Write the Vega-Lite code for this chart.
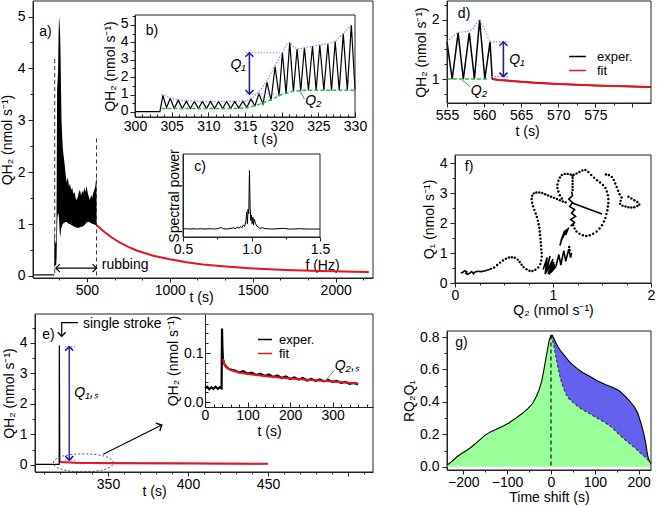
{
"$schema": "https://vega.github.io/schema/vega-lite/v6.json",
"width": 657, "height": 507, "padding": 0, "autosize": {"type": "none"},
"background": "white",
"config": {
  "view": {"stroke": null},
  "font": "Liberation Sans",
  "axis": {"labelFont": "Liberation Sans", "titleFont": "Liberation Sans", "labelFontSize": 14, "titleFontSize": 14, "titleFontWeight": "normal", "labelColor": "black", "titleColor": "black", "domainColor": "#222", "tickColor": "#222", "grid": false, "labelPadding": 2, "titlePadding": 3, "labelOverlap": false, "labelFlush": false},
  "axisX": {"labelPadding": 1, "titleBaseline": "middle"},
  "axisY": {"labelPadding": 3},
  "text": {"font": "Liberation Sans", "fontSize": 14, "color": "black"}
},
"resolve": {"scale": {"x": "independent", "y": "independent", "color": "independent"}},
"layer": [
{
 "encoding": {
  "x": {"field": "t", "type": "quantitative", "scale": {"domain": [175, 2225], "range": [33, 373], "nice": false, "zero": false},
        "axis": {"orient": "bottom", "offset": -229, "title": "t (s)", "titleX": 201, "titleY": 19, "values": [333.33, 500, 666.67, 833.33, 1000, 1166.67, 1333.33, 1500, 1666.67, 1833.33, 2000, 2166.67], "labelExpr": "datum.value % 500 == 0 ? format(datum.value, 'd') : ''", "tickSize": {"condition": {"test": "datum.value % 500 == 0", "value": 4}, "value": 2}}},
  "y": {"field": "Q", "type": "quantitative", "scale": {"domain": [-0.04, 5.3], "range": [278, 1], "nice": false, "zero": false},
        "axis": {"orient": "left", "offset": -33, "title": "QH₂ (nmol s⁻¹)", "values": [0, 0.5, 1, 1.5, 2, 2.5, 3, 3.5, 4, 4.5, 5], "labelExpr": "datum.value % 1 == 0 ? format(datum.value, 'd') : ''", "tickSize": {"condition": {"test": "datum.value % 1 == 0", "value": 5}, "value": 3}}}
 },
 "layer": [
  {"data": {"values": [{"t": 175, "Q": 0.02}, {"t": 303.5, "Q": 0.02}]}, "mark": {"type": "line", "color": "black", "strokeWidth": 1.2}},
  {"data": {"values": [
    {"t": 303.5, "Q": 0.02, "lo": 0.02}, {"t": 304, "Q": 0.95, "lo": 0.1}, {"t": 306, "Q": 0.75, "lo": 0.2}, {"t": 310, "Q": 0.62, "lo": 0.2}, {"t": 315, "Q": 0.65, "lo": 0.22}, {"t": 317, "Q": 1.2, "lo": 0.35}, {"t": 319, "Q": 2.6, "lo": 0.7}, {"t": 321, "Q": 4.0, "lo": 1.0}, {"t": 323, "Q": 3.6, "lo": 1.15}, {"t": 326, "Q": 3.9, "lo": 1.2}, {"t": 329, "Q": 4.6, "lo": 1.2}, {"t": 332, "Q": 5.0, "lo": 1.1}, {"t": 335, "Q": 4.9, "lo": 0.9}, {"t": 338, "Q": 4.7, "lo": 0.75}, {"t": 341, "Q": 4.3, "lo": 0.8}, {"t": 344, "Q": 3.6, "lo": 0.9}, {"t": 347, "Q": 3.0, "lo": 0.93}, {"t": 351, "Q": 2.7, "lo": 0.98}, {"t": 355, "Q": 2.45, "lo": 1.0}, {"t": 360, "Q": 2.3, "lo": 1.02}, {"t": 366, "Q": 2.15, "lo": 1.03}, {"t": 372, "Q": 1.95, "lo": 1.04}, {"t": 378, "Q": 1.8, "lo": 1.04}, {"t": 385, "Q": 1.9, "lo": 1.02}, {"t": 392, "Q": 1.72, "lo": 1.0}, {"t": 398, "Q": 1.78, "lo": 1.0}, {"t": 405, "Q": 1.66, "lo": 0.98}, {"t": 412, "Q": 1.7, "lo": 0.97}, {"t": 418, "Q": 1.58, "lo": 0.96}, {"t": 425, "Q": 1.62, "lo": 0.95}, {"t": 432, "Q": 1.5, "lo": 0.94}, {"t": 438, "Q": 1.46, "lo": 0.93}, {"t": 445, "Q": 1.52, "lo": 0.93}, {"t": 452, "Q": 1.62, "lo": 0.93}, {"t": 458, "Q": 1.66, "lo": 0.94}, {"t": 465, "Q": 1.55, "lo": 0.95}, {"t": 472, "Q": 1.64, "lo": 0.95}, {"t": 478, "Q": 1.6, "lo": 0.96}, {"t": 485, "Q": 1.7, "lo": 0.98}, {"t": 492, "Q": 1.62, "lo": 1.0}, {"t": 498, "Q": 1.74, "lo": 1.03}, {"t": 505, "Q": 1.6, "lo": 1.04}, {"t": 512, "Q": 1.52, "lo": 1.04}, {"t": 518, "Q": 1.46, "lo": 1.03}, {"t": 525, "Q": 1.56, "lo": 1.02}, {"t": 532, "Q": 1.5, "lo": 1.0}, {"t": 538, "Q": 1.6, "lo": 1.0}, {"t": 545, "Q": 1.66, "lo": 0.99}, {"t": 550, "Q": 1.72, "lo": 0.98}, {"t": 555, "Q": 1.85, "lo": 0.98}, {"t": 557.5, "Q": 2.0, "lo": 0.98}, {"t": 558.5, "Q": 1.0, "lo": 0.98}
  ]}, "mark": {"type": "area", "color": "black"}, "encoding": {"y2": {"field": "lo"}}},
  {"data": {"values": [{"t": 558, "Q": 0.98}, {"t": 600, "Q": 0.86}, {"t": 650, "Q": 0.74}, {"t": 700, "Q": 0.64}, {"t": 750, "Q": 0.56}, {"t": 800, "Q": 0.49}, {"t": 900, "Q": 0.39}, {"t": 1000, "Q": 0.32}, {"t": 1100, "Q": 0.265}, {"t": 1200, "Q": 0.22}, {"t": 1300, "Q": 0.19}, {"t": 1400, "Q": 0.165}, {"t": 1500, "Q": 0.145}, {"t": 1600, "Q": 0.13}, {"t": 1700, "Q": 0.115}, {"t": 1800, "Q": 0.105}, {"t": 1900, "Q": 0.095}, {"t": 2000, "Q": 0.088}, {"t": 2100, "Q": 0.082}, {"t": 2200, "Q": 0.077}]},
   "mark": {"type": "line", "color": "#e8141b", "strokeWidth": 2}},
  {"data": {"values": [{"t": 306, "Q": 4.18}, {"t": 558, "Q": 2.65}]}, "mark": {"type": "rule", "color": "#333", "strokeDash": [4, 3], "strokeWidth": 1}, "encoding": {"y2": {"datum": 0}}},
  {"data": {"values": [{"t": 313, "tend": 558, "Q": 0.15}]}, "mark": {"type": "rule", "color": "black", "strokeWidth": 1.2}, "encoding": {"x2": {"field": "tend"}}},
  {"data": {"values": [{"t": 313, "Q": 0.15}]}, "mark": {"type": "point", "shape": "M1,-1L0,0L1,1", "filled": false, "color": "black", "size": 64, "strokeWidth": 1.2, "opacity": 1}},
  {"data": {"values": [{"t": 558, "Q": 0.15}]}, "mark": {"type": "point", "shape": "M-1,-1L0,0L-1,1", "filled": false, "color": "black", "size": 64, "strokeWidth": 1.2, "opacity": 1}},
  {"data": {"values": [{"t": 590, "Q": 0.22, "label": "rubbing"}]}, "mark": {"type": "text", "align": "left", "baseline": "middle", "fontSize": 14}, "encoding": {"text": {"field": "label"}}},
  {"data": {"values": [{"t": 250, "Q": 4.7, "label": "a)"}]}, "mark": {"type": "text", "align": "center", "baseline": "middle", "fontSize": 14}, "encoding": {"text": {"field": "label"}}},
  {"data": {"values": [{"t": 175, "tend": 2225, "Q": -0.04, "Qend": 5.3}]}, "mark": {"type": "rect", "filled": false, "stroke": "#222", "strokeWidth": 1}, "encoding": {"x2": {"field": "tend"}, "y2": {"field": "Qend"}}}
 ]
},
{
 "encoding": {
  "x": {"field": "t", "type": "quantitative", "scale": {"domain": [300, 330], "range": [135, 355], "nice": false, "zero": false},
        "axis": {"orient": "bottom", "offset": -390, "title": "t (s)", "titleX": 265, "titleY": 22, "values": [300,301,302,303,304,305,306,307,308,309,310,311,312,313,314,315,316,317,318,319,320,321,322,323,324,325,326,327,328,329,330], "labelExpr": "datum.value % 5 == 0 ? format(datum.value, 'd') : ''", "tickSize": {"condition": {"test": "datum.value % 5 == 0", "value": -5}, "value": -3}, "labelPadding": 7}},
  "y": {"field": "Q", "type": "quantitative", "scale": {"domain": [-0.29, 5.57], "range": [117, 15], "nice": false, "zero": false},
        "axis": {"orient": "left", "offset": -135, "title": "QH₂ (nmol s⁻¹)", "values": [0, 0.5, 1, 1.5, 2, 2.5, 3, 3.5, 4, 4.5, 5, 5.5], "labelExpr": "datum.value % 1 == 0 ? format(datum.value, 'd') : ''", "labelOffset": -1, "labelPadding": 2, "tickSize": {"condition": {"test": "datum.value % 1 == 0", "value": 5}, "value": 3}}}
 },
 "layer": [
  {"data": {"values": [
    {"t": 300, "Q": 0.02}, {"t": 303.4, "Q": 0.02}, {"t": 303.8, "Q": 0.95}, {"t": 304.3, "Q": 0.25}, {"t": 304.8, "Q": 0.78}, {"t": 305.35, "Q": 0.2}, {"t": 305.9, "Q": 0.68}, {"t": 306.45, "Q": 0.2}, {"t": 307, "Q": 0.62}, {"t": 307.55, "Q": 0.2}, {"t": 308.1, "Q": 0.6}, {"t": 308.65, "Q": 0.2}, {"t": 309.2, "Q": 0.6}, {"t": 309.75, "Q": 0.2}, {"t": 310.3, "Q": 0.6}, {"t": 310.85, "Q": 0.2}, {"t": 311.4, "Q": 0.6}, {"t": 311.95, "Q": 0.2}, {"t": 312.5, "Q": 0.6}, {"t": 313.05, "Q": 0.2}, {"t": 313.6, "Q": 0.6}, {"t": 314.15, "Q": 0.22}, {"t": 314.7, "Q": 0.62}, {"t": 315.25, "Q": 0.25}, {"t": 315.8, "Q": 0.75}, {"t": 316.35, "Q": 0.35}, {"t": 316.9, "Q": 1.05}, {"t": 317.45, "Q": 0.45}, {"t": 318, "Q": 1.7}, {"t": 318.55, "Q": 0.65}, {"t": 319.1, "Q": 2.6}, {"t": 319.65, "Q": 0.9}, {"t": 320.1, "Q": 3.4}, {"t": 320.6, "Q": 1.05}, {"t": 321.1, "Q": 4.0}, {"t": 321.6, "Q": 1.15}, {"t": 322.1, "Q": 3.62}, {"t": 322.6, "Q": 1.22}, {"t": 323.1, "Q": 3.7}, {"t": 323.65, "Q": 1.25}, {"t": 324.2, "Q": 3.78}, {"t": 324.7, "Q": 1.25}, {"t": 325.2, "Q": 3.85}, {"t": 325.75, "Q": 1.25}, {"t": 326.3, "Q": 3.92}, {"t": 326.8, "Q": 1.25}, {"t": 327.3, "Q": 4.05}, {"t": 327.85, "Q": 1.25}, {"t": 328.4, "Q": 4.5}, {"t": 328.95, "Q": 1.25}, {"t": 329.5, "Q": 5.0}, {"t": 330, "Q": 1.3}
  ]}, "mark": {"type": "line", "color": "black", "strokeWidth": 1.2}},
  {"data": {"values": [
    {"t": 303.6, "Q": 1.0}, {"t": 304.3, "Q": 0.9}, {"t": 305, "Q": 0.78}, {"t": 306, "Q": 0.68}, {"t": 307, "Q": 0.63}, {"t": 309, "Q": 0.6}, {"t": 312, "Q": 0.6}, {"t": 315, "Q": 0.62}, {"t": 316, "Q": 0.8}, {"t": 317, "Q": 1.2}, {"t": 318, "Q": 1.8}, {"t": 319, "Q": 2.6}, {"t": 320.1, "Q": 3.4}, {"t": 320.6, "Q": 3.85}, {"t": 321.1, "Q": 4.0}, {"t": 321.7, "Q": 3.7}, {"t": 322.3, "Q": 3.62}, {"t": 323.5, "Q": 3.72}, {"t": 325.2, "Q": 3.85}, {"t": 326.3, "Q": 3.92}, {"t": 327.3, "Q": 4.05}, {"t": 328.4, "Q": 4.5}, {"t": 329.5, "Q": 5.0}
  ]}, "mark": {"type": "line", "color": "#8c8cf0", "strokeDash": [1.5, 1.5], "strokeWidth": 1.2}},
  {"data": {"values": [
    {"t": 303.6, "Q": 0.2}, {"t": 310, "Q": 0.2}, {"t": 314, "Q": 0.2}, {"t": 315.5, "Q": 0.25}, {"t": 317, "Q": 0.45}, {"t": 318.5, "Q": 0.7}, {"t": 320, "Q": 1.0}, {"t": 321.5, "Q": 1.18}, {"t": 323, "Q": 1.25}, {"t": 330, "Q": 1.25}
  ]}, "mark": {"type": "line", "color": "#2dbb4e", "strokeDash": [4, 2], "strokeWidth": 1.5}},
  {"data": {"values": [{"t": 315.1, "tend": 320, "Q": 3.4}, {"t": 315.1, "tend": 320, "Q": 1.03}]}, "mark": {"type": "rule", "color": "#8c8cf0", "strokeDash": [1.5, 1.5], "strokeWidth": 1.2}, "encoding": {"x2": {"field": "tend"}}},
  {"data": {"values": [{"t": 315.6, "Q": 1.03, "Qend": 3.4}]}, "mark": {"type": "rule", "color": "#1f1fa0", "strokeWidth": 1.6}, "encoding": {"y2": {"field": "Qend"}}},
  {"data": {"values": [{"t": 315.6, "Q": 3.4}]}, "mark": {"type": "point", "shape": "M-1,1L0,0L1,1", "filled": false, "color": "#1f1fa0", "size": 64, "strokeWidth": 1.6, "opacity": 1}},
  {"data": {"values": [{"t": 315.6, "Q": 1.03}]}, "mark": {"type": "point", "shape": "M-1,-1L0,0L1,-1", "filled": false, "color": "#1f1fa0", "size": 64, "strokeWidth": 1.6, "opacity": 1}},
  {"data": {"values": [{"t": 322.4, "Q": 1.26, "tend": 323.1, "Qend": 0.75}]}, "mark": {"type": "rule", "color": "#2a9d5a", "strokeWidth": 1}, "encoding": {"x2": {"field": "tend"}, "y2": {"field": "Qend"}}},
  {"data": {"values": [{"t": 315.1, "Q": 2.7, "label": "Q₁"}]}, "mark": {"type": "text", "align": "right", "baseline": "middle", "fontStyle": "italic", "fontSize": 14}, "encoding": {"text": {"field": "label"}}},
  {"data": {"values": [{"t": 323.2, "Q": 0.65, "label": "Q₂"}]}, "mark": {"type": "text", "align": "left", "baseline": "middle", "fontStyle": "italic", "fontSize": 14}, "encoding": {"text": {"field": "label"}}},
  {"data": {"values": [{"t": 302.3, "Q": 4.65, "label": "b)"}]}, "mark": {"type": "text", "align": "center", "baseline": "middle", "fontSize": 14}, "encoding": {"text": {"field": "label"}}},
  {"data": {"values": [{"t": 300, "tend": 330, "Q": -0.29, "Qend": 5.57}]}, "mark": {"type": "rect", "filled": false, "stroke": "#222", "strokeWidth": 1}, "encoding": {"x2": {"field": "tend"}, "y2": {"field": "Qend"}}}
 ]
},
{
 "encoding": {
  "x": {"field": "f", "type": "quantitative", "scale": {"domain": [0.5, 1.5], "range": [183, 320], "nice": false, "zero": false},
        "axis": {"orient": "bottom", "offset": -270, "title": "f (Hz)", "titleX": 322, "titleY": 28, "values": [0.5, 0.75, 1, 1.25, 1.5], "labelExpr": "datum.value % 0.5 == 0 ? format(datum.value, '.1f') : ''", "tickSize": {"condition": {"test": "datum.value % 0.5 == 0", "value": 4}, "value": 2}}},
  "y": {"field": "P", "type": "quantitative", "scale": {"domain": [0, 1.25], "range": [237, 154], "nice": false, "zero": false},
        "axis": {"orient": "left", "offset": -183, "title": "Spectral power", "ticks": false, "labels": false, "titlePadding": 2}}
 },
 "layer": [
  {"data": {"values": [
    {"f": 0.5, "P": 0.12}, {"f": 0.52, "P": 0.125}, {"f": 0.55, "P": 0.12}, {"f": 0.58, "P": 0.125}, {"f": 0.6, "P": 0.12}, {"f": 0.63, "P": 0.125}, {"f": 0.66, "P": 0.12}, {"f": 0.7, "P": 0.125}, {"f": 0.73, "P": 0.12}, {"f": 0.76, "P": 0.13}, {"f": 0.78, "P": 0.145}, {"f": 0.79, "P": 0.125}, {"f": 0.82, "P": 0.12}, {"f": 0.85, "P": 0.13}, {"f": 0.87, "P": 0.14}, {"f": 0.88, "P": 0.125}, {"f": 0.9, "P": 0.15}, {"f": 0.91, "P": 0.13}, {"f": 0.92, "P": 0.16}, {"f": 0.93, "P": 0.14}, {"f": 0.94, "P": 0.18}, {"f": 0.95, "P": 0.16}, {"f": 0.96, "P": 0.25}, {"f": 0.965, "P": 0.38}, {"f": 0.97, "P": 0.2}, {"f": 0.975, "P": 0.42}, {"f": 0.98, "P": 0.35}, {"f": 0.985, "P": 1.0}, {"f": 0.99, "P": 0.45}, {"f": 0.995, "P": 0.25}, {"f": 1.0, "P": 0.33}, {"f": 1.005, "P": 0.2}, {"f": 1.01, "P": 0.3}, {"f": 1.015, "P": 0.18}, {"f": 1.02, "P": 0.27}, {"f": 1.03, "P": 0.2}, {"f": 1.04, "P": 0.16}, {"f": 1.05, "P": 0.15}, {"f": 1.06, "P": 0.13}, {"f": 1.08, "P": 0.14}, {"f": 1.1, "P": 0.125}, {"f": 1.15, "P": 0.12}, {"f": 1.2, "P": 0.125}, {"f": 1.24, "P": 0.13}, {"f": 1.27, "P": 0.12}, {"f": 1.3, "P": 0.12}, {"f": 1.35, "P": 0.125}, {"f": 1.4, "P": 0.12}, {"f": 1.45, "P": 0.12}, {"f": 1.5, "P": 0.12}
  ]}, "mark": {"type": "line", "color": "black", "strokeWidth": 1}},
  {"data": {"values": [{"f": 0.624, "P": 1.05, "label": "c)"}]}, "mark": {"type": "text", "align": "center", "baseline": "middle", "fontSize": 14}, "encoding": {"text": {"field": "label"}}},
  {"data": {"values": [{"f": 0.5, "fend": 1.5, "P": 0, "Pend": 1.25}]}, "mark": {"type": "rect", "filled": false, "stroke": "#222", "strokeWidth": 1}, "encoding": {"x2": {"field": "fend"}, "y2": {"field": "Pend"}}}
 ]
},
{
 "encoding": {
  "x": {"field": "t", "type": "quantitative", "scale": {"domain": [555, 582.5], "range": [447, 651], "nice": false, "zero": false},
        "axis": {"orient": "bottom", "offset": -404, "title": "t (s)", "titleX": 527, "titleY": 28, "values": [555, 557.5, 560, 562.5, 565, 567.5, 570, 572.5, 575, 577.5, 580], "labelExpr": "datum.value % 5 == 0 && datum.value < 580 ? format(datum.value, 'd') : ''", "tickSize": {"condition": {"test": "datum.value % 5 == 0", "value": 4}, "value": 2}}},
  "y": {"field": "Q", "type": "quantitative", "scale": {"domain": [0.595, 2.32], "range": [103, 1], "nice": false, "zero": false},
        "axis": {"orient": "left", "offset": -447, "title": "QH₂ (nmol s⁻¹)", "values": [0.75, 1, 1.25, 1.5, 1.75, 2, 2.25], "labelExpr": "datum.value % 1 == 0 ? format(datum.value, 'd') : ''", "tickSize": {"condition": {"test": "datum.value % 1 == 0", "value": 5}, "value": 3}}}
 },
 "layer": [
  {"data": {"values": [{"t": 555, "Q": 1.63}, {"t": 555.7, "Q": 1.0}, {"t": 556.5, "Q": 1.78}, {"t": 557.2, "Q": 1.0}, {"t": 558, "Q": 1.78}, {"t": 558.7, "Q": 1.0}, {"t": 559.4, "Q": 2.0}, {"t": 560.1, "Q": 1.0}, {"t": 560.8, "Q": 1.63}, {"t": 561.1, "Q": 1.0}, {"t": 562, "Q": 0.985}, {"t": 565, "Q": 0.955}, {"t": 570, "Q": 0.915}, {"t": 575, "Q": 0.89}, {"t": 582.5, "Q": 0.865}]},
   "mark": {"type": "line", "strokeWidth": 1.5},
   "encoding": {"color": {"datum": "exper.", "type": "nominal", "scale": {"domain": ["exper.", "fit"], "range": ["black", "#e8141b"]},
     "legend": {"orient": "none", "legendX": 568, "legendY": 50, "title": null, "symbolType": "stroke", "symbolSize": 280, "symbolStrokeWidth": 1.5, "labelFontSize": 13, "labelFont": "Liberation Sans", "labelColor": "black", "labelOffset": 10, "rowPadding": 0, "clipHeight": 13, "padding": 0, "labelExpr": "datum.label == 'fit' ? '\u00a0fit' : datum.label"}}}},
  {"data": {"values": [{"t": 561.1, "Q": 1.0}, {"t": 562, "Q": 0.985}, {"t": 565, "Q": 0.955}, {"t": 567, "Q": 0.935}, {"t": 570, "Q": 0.915}, {"t": 575, "Q": 0.89}, {"t": 580, "Q": 0.873}, {"t": 582.5, "Q": 0.865}]},
   "mark": {"type": "line", "strokeWidth": 2}, "encoding": {"color": {"datum": "fit", "type": "nominal"}}},
  {"data": {"values": [{"t": 555, "Q": 1.63}, {"t": 555.8, "Q": 1.72}, {"t": 556.5, "Q": 1.79}, {"t": 557.3, "Q": 1.8}, {"t": 558, "Q": 1.81}, {"t": 558.5, "Q": 1.85}, {"t": 559, "Q": 1.95}, {"t": 559.4, "Q": 2.0}, {"t": 560, "Q": 1.85}, {"t": 560.8, "Q": 1.63}]},
   "mark": {"type": "line", "color": "#8c8cf0", "strokeDash": [1.5, 1.5], "strokeWidth": 1.2}},
  {"data": {"values": [{"t": 555, "Q": 1.0}, {"t": 560.6, "Q": 1.0}]}, "mark": {"type": "line", "color": "#2dbb4e", "strokeDash": [4, 2], "strokeWidth": 1.5}},
  {"data": {"values": [{"t": 560.8, "tend": 563.3, "Q": 1.63}, {"t": 561, "tend": 563.3, "Q": 1.04}]}, "mark": {"type": "rule", "color": "#8c8cf0", "strokeDash": [1.5, 1.5], "strokeWidth": 1.2}, "encoding": {"x2": {"field": "tend"}}},
  {"data": {"values": [{"t": 562.6, "Q": 1.04, "Qend": 1.63}]}, "mark": {"type": "rule", "color": "#1f1fa0", "strokeWidth": 1.6}, "encoding": {"y2": {"field": "Qend"}}},
  {"data": {"values": [{"t": 562.6, "Q": 1.63}]}, "mark": {"type": "point", "shape": "M-1,1L0,0L1,1", "filled": false, "color": "#1f1fa0", "size": 64, "strokeWidth": 1.6, "opacity": 1}},
  {"data": {"values": [{"t": 562.6, "Q": 1.04}]}, "mark": {"type": "point", "shape": "M-1,-1L0,0L1,-1", "filled": false, "color": "#1f1fa0", "size": 64, "strokeWidth": 1.6, "opacity": 1}},
  {"data": {"values": [{"t": 557, "Q": 0.99, "tend": 558.1, "Qend": 0.87}]}, "mark": {"type": "rule", "color": "#2a9d5a", "strokeWidth": 1}, "encoding": {"x2": {"field": "tend"}, "y2": {"field": "Qend"}}},
  {"data": {"values": [{"t": 563.4, "Q": 1.33, "label": "Q₁"}]}, "mark": {"type": "text", "align": "left", "baseline": "middle", "fontStyle": "italic", "fontSize": 14}, "encoding": {"text": {"field": "label"}}},
  {"data": {"values": [{"t": 558.2, "Q": 0.8, "label": "Q₂"}]}, "mark": {"type": "text", "align": "left", "baseline": "middle", "fontStyle": "italic", "fontSize": 14}, "encoding": {"text": {"field": "label"}}},
  {"data": {"values": [{"t": 557.3, "Q": 2.1, "label": "d)"}]}, "mark": {"type": "text", "align": "center", "baseline": "middle", "fontSize": 14}, "encoding": {"text": {"field": "label"}}},
  {"data": {"values": [{"t": 555, "tend": 582.5, "Q": 0.595, "Qend": 2.32}]}, "mark": {"type": "rect", "filled": false, "stroke": "#222", "strokeWidth": 1}, "encoding": {"x2": {"field": "tend"}, "y2": {"field": "Qend"}}}
 ]
},
{
 "encoding": {
  "x": {"field": "t", "type": "quantitative", "scale": {"domain": [304.4, 515.6], "range": [35, 373], "nice": false, "zero": false},
        "axis": {"orient": "bottom", "offset": -35, "title": "t (s)", "titleX": 154, "titleY": 19, "values": [310,320,330,340,350,360,370,380,390,400,410,420,430,440,450,460,470,480,490,500,510], "labelExpr": "datum.value % 50 == 0 && datum.value < 500 ? format(datum.value, 'd') : ''", "tickSize": {"condition": {"test": "datum.value % 50 == 0", "value": 4}, "value": 2}}},
  "y": {"field": "Q", "type": "quantitative", "scale": {"domain": [-0.23, 4.95], "range": [472, 314], "nice": false, "zero": false},
        "axis": {"orient": "left", "offset": -35, "title": "QH₂ (nmol s⁻¹)", "values": [0, 0.5, 1, 1.5, 2, 2.5, 3, 3.5, 4, 4.5], "labelExpr": "datum.value % 1 == 0 ? format(datum.value, 'd') : ''", "tickSize": {"condition": {"test": "datum.value % 1 == 0", "value": 5}, "value": 3}}}
 },
 "layer": [
  {"data": {"values": [{"t": 304.4, "Q": 0.02}, {"t": 319.5, "Q": 0.02}, {"t": 319.6, "Q": 3.92}, {"t": 319.9, "Q": 0.12}, {"t": 321, "Q": 0.09}, {"t": 330, "Q": 0.075}, {"t": 350, "Q": 0.06}, {"t": 400, "Q": 0.05}, {"t": 450, "Q": 0.04}]},
   "mark": {"type": "line", "color": "black", "strokeWidth": 1.2}},
  {"data": {"values": [{"t": 320, "Q": 0.1}, {"t": 330, "Q": 0.075}, {"t": 350, "Q": 0.06}, {"t": 400, "Q": 0.05}, {"t": 450, "Q": 0.04}]},
   "mark": {"type": "line", "color": "#e8141b", "strokeWidth": 2}},
  {"data": {"values": [{"t": 323, "tend": 329.4, "Q": 3.88}, {"t": 323, "tend": 329.4, "Q": 0.16}]}, "mark": {"type": "rule", "color": "#8c8cf0", "strokeDash": [1.5, 1.5], "strokeWidth": 1.2}, "encoding": {"x2": {"field": "tend"}}},
  {"data": {"values": [{"t": 325.8, "Q": 0.16, "Qend": 3.88}]}, "mark": {"type": "rule", "color": "#1f1fa0", "strokeWidth": 1.4}, "encoding": {"y2": {"field": "Qend"}}},
  {"data": {"values": [{"t": 325.8, "Q": 3.88}]}, "mark": {"type": "point", "shape": "M-1,1L0,0L1,1", "filled": false, "color": "#1f1fa0", "size": 64, "strokeWidth": 1.6, "opacity": 1}},
  {"data": {"values": [{"t": 325.8, "Q": 0.16}]}, "mark": {"type": "point", "shape": "M-1,-1L0,0L1,-1", "filled": false, "color": "#1f1fa0", "size": 64, "strokeWidth": 1.6, "opacity": 1}},
  {"data": {"values": [{"t": 329, "Q": 2.36, "label": "Q₁,ₛ"}]}, "mark": {"type": "text", "align": "left", "baseline": "middle", "fontStyle": "italic", "fontSize": 14}, "encoding": {"text": {"field": "label"}}},
  {"data": {"values": [{"t": 334.4, "Q": 4.62, "label": "single stroke"}]}, "mark": {"type": "text", "align": "left", "baseline": "middle", "fontSize": 14}, "encoding": {"text": {"field": "label"}}},
  {"data": {"values": [{"t": 312.8, "Q": 4.26, "label": "e)"}]}, "mark": {"type": "text", "align": "center", "baseline": "middle", "fontSize": 14}, "encoding": {"text": {"field": "label"}}},
  {"data": {"values": [{"i": 0, "t": 331.3, "Q": 4.67}, {"i": 1, "t": 321.1, "Q": 4.67}, {"i": 2, "t": 321.1, "Q": 4.22}]}, "mark": {"type": "line", "color": "black", "strokeWidth": 1.2}, "encoding": {"order": {"field": "i"}}},
  {"data": {"values": [{"t": 321.1, "Q": 4.22}]}, "mark": {"type": "point", "shape": "M-1,-1L0,0L1,-1", "filled": false, "color": "black", "size": 64, "strokeWidth": 1.4, "opacity": 1}},
  {"data": {"values": [{"t": 334.6, "Q": 0.07}]}, "mark": {"type": "point", "shape": "M-1,0C-1,-0.4,1,-0.4,1,0C1,0.4,-1,0.4,-1,0Z", "filled": false, "color": "#555", "size": 3600, "strokeWidth": 1, "strokeDash": [2, 2], "opacity": 1}},
  {"data": {"values": [{"t": 347, "Q": 0.35, "tend": 383.6, "Qend": 1.31}]}, "mark": {"type": "rule", "color": "black", "strokeWidth": 1.2}, "encoding": {"x2": {"field": "tend"}, "y2": {"field": "Qend"}}},
  {"data": {"values": [{"t": 383.6, "Q": 1.31}]}, "mark": {"type": "point", "shape": "M-1,1L0,0L1,1", "filled": false, "color": "black", "size": 80, "strokeWidth": 1.4, "opacity": 1, "angle": 63}},
  {"data": {"values": [{"t": 304.4, "tend": 515.6, "Q": -0.23, "Qend": 4.95}]}, "mark": {"type": "rect", "filled": false, "stroke": "#222", "strokeWidth": 1}, "encoding": {"x2": {"field": "tend"}, "y2": {"field": "Qend"}}}
 ]
},
{
 "encoding": {
  "x": {"field": "t", "type": "quantitative", "scale": {"domain": [0, 395], "range": [205, 373], "nice": false, "zero": false},
        "axis": {"orient": "bottom", "offset": -100, "title": "t (s)", "titleX": 269, "titleY": 24, "values": [0,20,40,60,80,100,120,140,160,180,200,220,240,260,280,300,320,340,360,380], "labelExpr": "datum.value % 100 == 0 ? format(datum.value, 'd') : ''", "tickSize": {"condition": {"test": "datum.value % 100 == 0", "value": -5}, "value": -3}, "labelPadding": 6}},
  "y": {"field": "Q", "type": "quantitative", "scale": {"domain": [-0.0102, 0.1796], "range": [407, 314], "nice": false, "zero": false},
        "axis": {"orient": "left", "offset": -205, "title": "QH₂ (nmol s⁻¹)", "values": [0, 0.02, 0.04, 0.06, 0.08, 0.1, 0.12, 0.14, 0.16], "labelExpr": "datum.value == 0 || datum.value == 0.1 ? format(datum.value, '.1f') : ''", "tickSize": {"condition": {"test": "datum.value == 0 || datum.value == 0.1", "value": -5}, "value": -3}, "labelPadding": 7}}
 },
 "layer": [
  {"data": {"values": [
    {"t": 0, "Q": 0.028}, {"t": 5, "Q": 0.031}, {"t": 10, "Q": 0.026}, {"t": 15, "Q": 0.03}, {"t": 20, "Q": 0.027}, {"t": 25, "Q": 0.031}, {"t": 30, "Q": 0.027}, {"t": 35, "Q": 0.03}, {"t": 39, "Q": 0.028}, {"t": 40, "Q": 0.15}, {"t": 41, "Q": 0.11}, {"t": 42, "Q": 0.088}, {"t": 45, "Q": 0.078}, {"t": 50, "Q": 0.072}, {"t": 55, "Q": 0.068}, {"t": 60, "Q": 0.066}, {"t": 70, "Q": 0.064}, {"t": 80, "Q": 0.06}, {"t": 90, "Q": 0.063}, {"t": 100, "Q": 0.058}, {"t": 110, "Q": 0.06}, {"t": 120, "Q": 0.055}, {"t": 130, "Q": 0.058}, {"t": 140, "Q": 0.053}, {"t": 150, "Q": 0.056}, {"t": 160, "Q": 0.051}, {"t": 170, "Q": 0.054}, {"t": 180, "Q": 0.049}, {"t": 190, "Q": 0.052}, {"t": 200, "Q": 0.047}, {"t": 210, "Q": 0.05}, {"t": 220, "Q": 0.046}, {"t": 230, "Q": 0.049}, {"t": 240, "Q": 0.044}, {"t": 250, "Q": 0.047}, {"t": 260, "Q": 0.043}, {"t": 270, "Q": 0.046}, {"t": 280, "Q": 0.042}, {"t": 290, "Q": 0.045}, {"t": 300, "Q": 0.041}, {"t": 310, "Q": 0.043}, {"t": 320, "Q": 0.039}, {"t": 330, "Q": 0.041}, {"t": 340, "Q": 0.037}, {"t": 350, "Q": 0.039}, {"t": 360, "Q": 0.036}
  ]}, "mark": {"type": "line", "strokeWidth": 2.2},
   "encoding": {"color": {"datum": "exper.", "type": "nominal", "scale": {"domain": ["exper.", "fit"], "range": ["black", "#e8141b"]},
     "legend": {"orient": "none", "legendX": 257, "legendY": 333, "title": null, "symbolType": "stroke", "symbolSize": 200, "symbolStrokeWidth": 1.5, "labelFontSize": 13, "labelFont": "Liberation Sans", "labelColor": "black", "labelOffset": 6, "rowPadding": 0, "clipHeight": 13, "padding": 0, "labelExpr": "datum.label == 'fit' ? '\u00a0fit' : datum.label"}}}},
  {"data": {"values": [{"t": 42, "Q": 0.088}, {"t": 45, "Q": 0.078}, {"t": 50, "Q": 0.071}, {"t": 60, "Q": 0.065}, {"t": 80, "Q": 0.06}, {"t": 100, "Q": 0.057}, {"t": 150, "Q": 0.052}, {"t": 200, "Q": 0.048}, {"t": 250, "Q": 0.045}, {"t": 300, "Q": 0.042}, {"t": 360, "Q": 0.038}]},
   "mark": {"type": "line", "strokeWidth": 2}, "encoding": {"color": {"datum": "fit", "type": "nominal"}}},
  {"data": {"values": [{"t": 285, "Q": 0.045, "tend": 304, "Qend": 0.065}]}, "mark": {"type": "rule", "color": "#2a9d5a", "strokeWidth": 1}, "encoding": {"x2": {"field": "tend"}, "y2": {"field": "Qend"}}},
  {"data": {"values": [{"t": 305, "Q": 0.074, "label": "Q₂,ₛ"}]}, "mark": {"type": "text", "align": "left", "baseline": "middle", "fontStyle": "italic", "fontSize": 14}, "encoding": {"text": {"field": "label"}}}
 ]
},
{
 "encoding": {
  "x": {"field": "Q2", "type": "quantitative", "scale": {"domain": [0, 2], "range": [455, 651], "nice": false, "zero": false},
        "axis": {"orient": "bottom", "offset": -224, "title": "Q₂ (nmol s⁻¹)", "titleY": 27, "values": [0, 0.25, 0.5, 0.75, 1, 1.25, 1.5, 1.75, 2], "labelExpr": "datum.value % 1 == 0 ? format(datum.value, 'd') : ''", "tickSize": {"condition": {"test": "datum.value % 1 == 0", "value": 4}, "value": 2}}},
  "y": {"field": "Q1", "type": "quantitative", "scale": {"domain": [0, 4.27], "range": [283, 155], "nice": false, "zero": false},
        "axis": {"orient": "left", "offset": -455, "title": "Q₁ (nmol s⁻¹)", "values": [0, 0.5, 1, 1.5, 2, 2.5, 3, 3.5, 4], "labelExpr": "datum.value % 1 == 0 ? format(datum.value, 'd') : ''", "tickSize": {"condition": {"test": "datum.value % 1 == 0", "value": 5}, "value": 3}}}
 },
 "layer": [
  {"data": {"values": [
    {"seg": 1, "i": 0, "Q2": 0.06, "Q1": 0.33}, {"seg": 1, "i": 1, "Q2": 0.08, "Q1": 0.36}, {"seg": 1, "i": 2, "Q2": 0.1, "Q1": 0.41}, {"seg": 1, "i": 3, "Q2": 0.12, "Q1": 0.37}, {"seg": 1, "i": 4, "Q2": 0.11, "Q1": 0.32}, {"seg": 1, "i": 5, "Q2": 0.13, "Q1": 0.29}, {"seg": 1, "i": 6, "Q2": 0.15, "Q1": 0.33}, {"seg": 1, "i": 7, "Q2": 0.17, "Q1": 0.38}, {"seg": 1, "i": 8, "Q2": 0.19, "Q1": 0.31}, {"seg": 1, "i": 9, "Q2": 0.2, "Q1": 0.36}, {"seg": 1, "i": 10, "Q2": 0.23, "Q1": 0.39}, {"seg": 1, "i": 11, "Q2": 0.27, "Q1": 0.38}, {"seg": 1, "i": 12, "Q2": 0.31, "Q1": 0.41}, {"seg": 1, "i": 13, "Q2": 0.35, "Q1": 0.45}, {"seg": 1, "i": 14, "Q2": 0.38, "Q1": 0.49},
    {"seg": 2, "i": 0, "Q2": 0.9, "Q1": 0.45}, {"seg": 2, "i": 1, "Q2": 0.94, "Q1": 0.85}, {"seg": 2, "i": 2, "Q2": 0.92, "Q1": 0.3}, {"seg": 2, "i": 3, "Q2": 0.97, "Q1": 0.9}, {"seg": 2, "i": 4, "Q2": 0.93, "Q1": 0.35}, {"seg": 2, "i": 5, "Q2": 1.0, "Q1": 0.8}, {"seg": 2, "i": 6, "Q2": 0.95, "Q1": 0.3}, {"seg": 2, "i": 7, "Q2": 1.01, "Q1": 0.7}, {"seg": 2, "i": 8, "Q2": 0.96, "Q1": 0.28}, {"seg": 2, "i": 9, "Q2": 1.02, "Q1": 0.62}, {"seg": 2, "i": 10, "Q2": 0.98, "Q1": 0.35}, {"seg": 2, "i": 11, "Q2": 1.03, "Q1": 0.55},
    {"seg": 3, "i": 0, "Q2": 1.03, "Q1": 0.55}, {"seg": 3, "i": 1, "Q2": 1.06, "Q1": 0.95}, {"seg": 3, "i": 2, "Q2": 1.08, "Q1": 0.6}, {"seg": 3, "i": 3, "Q2": 1.11, "Q1": 1.08}, {"seg": 3, "i": 4, "Q2": 1.13, "Q1": 0.72}, {"seg": 3, "i": 5, "Q2": 1.16, "Q1": 1.12}, {"seg": 3, "i": 6, "Q2": 1.18, "Q1": 0.85}, {"seg": 3, "i": 7, "Q2": 1.19, "Q1": 1.0},
    {"seg": 4, "i": 0, "Q2": 1.07, "Q1": 1.25}, {"seg": 4, "i": 1, "Q2": 1.1, "Q1": 1.55}, {"seg": 4, "i": 2, "Q2": 1.08, "Q1": 1.4}, {"seg": 4, "i": 3, "Q2": 1.12, "Q1": 1.75}, {"seg": 4, "i": 4, "Q2": 1.1, "Q1": 1.5}, {"seg": 4, "i": 5, "Q2": 1.14, "Q1": 1.8}, {"seg": 4, "i": 6, "Q2": 1.13, "Q1": 1.6}, {"seg": 4, "i": 7, "Q2": 1.16, "Q1": 1.85},
    {"seg": 5, "i": 0, "Q2": 1.18, "Q1": 1.9}, {"seg": 5, "i": 1, "Q2": 1.22, "Q1": 2.02}, {"seg": 5, "i": 2, "Q2": 1.18, "Q1": 2.12}, {"seg": 5, "i": 3, "Q2": 1.23, "Q1": 2.22}, {"seg": 5, "i": 4, "Q2": 1.19, "Q1": 2.33}, {"seg": 5, "i": 5, "Q2": 1.22, "Q1": 2.45}, {"seg": 5, "i": 6, "Q2": 1.17, "Q1": 2.55}, {"seg": 5, "i": 7, "Q2": 1.2, "Q1": 2.68}, {"seg": 5, "i": 8, "Q2": 1.16, "Q1": 2.8}, {"seg": 5, "i": 9, "Q2": 1.2, "Q1": 2.92}, {"seg": 5, "i": 10, "Q2": 1.19, "Q1": 3.05},
    {"seg": 6, "i": 0, "Q2": 1.19, "Q1": 2.68}, {"seg": 6, "i": 1, "Q2": 1.5, "Q1": 2.3}
  ]}, "mark": {"type": "line", "color": "black", "strokeWidth": 1.6}, "encoding": {"detail": {"field": "seg", "type": "nominal"}, "order": {"field": "i"}}},
  {"data": {"values": [
    {"Q2": 0.40, "Q1": 0.52}, {"Q2": 0.43, "Q1": 0.6}, {"Q2": 0.46, "Q1": 0.68}, {"Q2": 0.49, "Q1": 0.75}, {"Q2": 0.52, "Q1": 0.81}, {"Q2": 0.55, "Q1": 0.85}, {"Q2": 0.58, "Q1": 0.86}, {"Q2": 0.61, "Q1": 0.84}, {"Q2": 0.64, "Q1": 0.78}, {"Q2": 0.66, "Q1": 0.7}, {"Q2": 0.68, "Q1": 0.61}, {"Q2": 0.70, "Q1": 0.53}, {"Q2": 0.73, "Q1": 0.46}, {"Q2": 0.76, "Q1": 0.41}, {"Q2": 0.79, "Q1": 0.40}, {"Q2": 0.82, "Q1": 0.44}, {"Q2": 0.85, "Q1": 0.52}, {"Q2": 0.87, "Q1": 0.63}, {"Q2": 0.88, "Q1": 0.75}, {"Q2": 0.885, "Q1": 0.88}, {"Q2": 0.885, "Q1": 1.0}, {"Q2": 0.88, "Q1": 1.12}, {"Q2": 0.878, "Q1": 1.24}, {"Q2": 0.875, "Q1": 1.36}, {"Q2": 0.872, "Q1": 1.48}, {"Q2": 0.868, "Q1": 1.6}, {"Q2": 0.864, "Q1": 1.72}, {"Q2": 0.86, "Q1": 1.84}, {"Q2": 0.853, "Q1": 1.96}, {"Q2": 0.845, "Q1": 2.08}, {"Q2": 0.835, "Q1": 2.2}, {"Q2": 0.823, "Q1": 2.32}, {"Q2": 0.81, "Q1": 2.44}, {"Q2": 0.797, "Q1": 2.56}, {"Q2": 0.787, "Q1": 2.68}, {"Q2": 0.782, "Q1": 2.8}, {"Q2": 0.788, "Q1": 2.91}, {"Q2": 0.805, "Q1": 2.99}, {"Q2": 0.83, "Q1": 3.02}, {"Q2": 0.86, "Q1": 3.02}, {"Q2": 0.89, "Q1": 3.0}, {"Q2": 0.92, "Q1": 2.96}, {"Q2": 0.95, "Q1": 2.92}, {"Q2": 0.98, "Q1": 2.88}, {"Q2": 1.01, "Q1": 2.84}, {"Q2": 1.04, "Q1": 2.8}, {"Q2": 1.07, "Q1": 2.76}, {"Q2": 1.1, "Q1": 2.72}, {"Q2": 1.13, "Q1": 2.69},
    {"Q2": 1.09, "Q1": 2.82}, {"Q2": 1.07, "Q1": 2.93}, {"Q2": 1.055, "Q1": 3.05}, {"Q2": 1.045, "Q1": 3.17}, {"Q2": 1.045, "Q1": 3.29}, {"Q2": 1.055, "Q1": 3.41}, {"Q2": 1.07, "Q1": 3.52}, {"Q2": 1.09, "Q1": 3.6}, {"Q2": 1.12, "Q1": 3.64}, {"Q2": 1.15, "Q1": 3.64}, {"Q2": 1.18, "Q1": 3.62}, {"Q2": 1.21, "Q1": 3.61}, {"Q2": 1.24, "Q1": 3.65}, {"Q2": 1.27, "Q1": 3.7}, {"Q2": 1.3, "Q1": 3.75}, {"Q2": 1.33, "Q1": 3.77}, {"Q2": 1.36, "Q1": 3.7}, {"Q2": 1.39, "Q1": 3.6}, {"Q2": 1.42, "Q1": 3.51}, {"Q2": 1.45, "Q1": 3.43}, {"Q2": 1.48, "Q1": 3.35}, {"Q2": 1.51, "Q1": 3.27}, {"Q2": 1.535, "Q1": 3.17}, {"Q2": 1.55, "Q1": 3.05}, {"Q2": 1.56, "Q1": 2.93}, {"Q2": 1.565, "Q1": 2.8}, {"Q2": 1.565, "Q1": 2.67}, {"Q2": 1.56, "Q1": 2.55}, {"Q2": 1.555, "Q1": 2.43}, {"Q2": 1.545, "Q1": 2.3}, {"Q2": 1.535, "Q1": 2.17}, {"Q2": 1.52, "Q1": 2.05}, {"Q2": 1.5, "Q1": 1.93}, {"Q2": 1.475, "Q1": 1.82}, {"Q2": 1.445, "Q1": 1.72}, {"Q2": 1.41, "Q1": 1.64}, {"Q2": 1.375, "Q1": 1.59}, {"Q2": 1.34, "Q1": 1.57}, {"Q2": 1.305, "Q1": 1.59}, {"Q2": 1.27, "Q1": 1.64}, {"Q2": 1.24, "Q1": 1.72}, {"Q2": 1.22, "Q1": 1.82}, {"Q2": 1.205, "Q1": 1.93},
    {"Q2": 1.54, "Q1": 3.62}, {"Q2": 1.57, "Q1": 3.6}, {"Q2": 1.6, "Q1": 3.54}, {"Q2": 1.62, "Q1": 3.44}, {"Q2": 1.635, "Q1": 3.32}, {"Q2": 1.65, "Q1": 3.2}, {"Q2": 1.665, "Q1": 3.08}, {"Q2": 1.68, "Q1": 2.96}, {"Q2": 1.7, "Q1": 2.85}, {"Q2": 1.69, "Q1": 2.74}, {"Q2": 1.685, "Q1": 2.64}, {"Q2": 1.71, "Q1": 2.58}, {"Q2": 1.74, "Q1": 2.55}, {"Q2": 1.77, "Q1": 2.53}, {"Q2": 1.8, "Q1": 2.52}, {"Q2": 1.83, "Q1": 2.53}, {"Q2": 1.86, "Q1": 2.57}, {"Q2": 1.88, "Q1": 2.62}, {"Q2": 1.86, "Q1": 2.7}, {"Q2": 1.83, "Q1": 2.76}, {"Q2": 1.8, "Q1": 2.82}, {"Q2": 1.77, "Q1": 2.88},
    {"Q2": 1.2, "Q1": 3.1}, {"Q2": 1.2, "Q1": 3.2}, {"Q2": 1.2, "Q1": 3.3}, {"Q2": 1.2, "Q1": 3.4}, {"Q2": 1.2, "Q1": 3.5}, {"Q2": 1.2, "Q1": 3.58}, {"Q2": 1.17, "Q1": 1.1}, {"Q2": 1.165, "Q1": 1.2}
  ]}, "mark": {"type": "point", "shape": "circle", "filled": true, "color": "black", "size": 6, "opacity": 1}},
  {"data": {"values": [{"Q2": 0.144, "Q1": 3.87, "label": "f)"}]}, "mark": {"type": "text", "align": "center", "baseline": "middle", "fontSize": 14}, "encoding": {"text": {"field": "label"}}},
  {"data": {"values": [{"Q2": 0, "Q2end": 2, "Q1": 0, "Q1end": 4.27}]}, "mark": {"type": "rect", "filled": false, "stroke": "#222", "strokeWidth": 1}, "encoding": {"x2": {"field": "Q2end"}, "y2": {"field": "Q1end"}}}
 ]
},
{
 "encoding": {
  "x": {"field": "s", "type": "quantitative", "scale": {"domain": [-237, 228], "range": [447, 651], "nice": false, "zero": false},
        "axis": {"orient": "bottom", "offset": -37, "title": "Time shift (s)", "titleY": 27, "values": [-200, -150, -100, -50, 0, 50, 100, 150, 200], "labelExpr": "datum.value % 100 == 0 ? format(datum.value, 'd') : ''", "tickSize": {"condition": {"test": "datum.value % 100 == 0", "value": 4}, "value": 2}}},
  "y": {"field": "R", "type": "quantitative", "scale": {"domain": [-0.02, 0.837], "range": [470, 331], "nice": false, "zero": false},
        "axis": {"orient": "left", "offset": -447, "title": "RQ₂Q₁", "values": [0, 0.1, 0.2, 0.3, 0.4, 0.5, 0.6, 0.7, 0.8], "labelExpr": "indexof([0, 0.2, 0.4, 0.6, 0.8], datum.value) >= 0 ? format(datum.value, '.1f') : ''", "tickSize": {"condition": {"test": "indexof([0, 0.2, 0.4, 0.6, 0.8], datum.value) >= 0", "value": 5}, "value": 3}}}
 },
 "layer": [
  {"data": {"values": [
    {"s": -237, "R": 0.01}, {"s": -232, "R": 0.02}, {"s": -225, "R": 0.035}, {"s": -215, "R": 0.06}, {"s": -202, "R": 0.085}, {"s": -190, "R": 0.105}, {"s": -180, "R": 0.125}, {"s": -165, "R": 0.16}, {"s": -150, "R": 0.195}, {"s": -138, "R": 0.215}, {"s": -126, "R": 0.23}, {"s": -110, "R": 0.25}, {"s": -96, "R": 0.27}, {"s": -80, "R": 0.3}, {"s": -65, "R": 0.33}, {"s": -52, "R": 0.36}, {"s": -42, "R": 0.39}, {"s": -34, "R": 0.43}, {"s": -27, "R": 0.475}, {"s": -21, "R": 0.53}, {"s": -16, "R": 0.6}, {"s": -12, "R": 0.66}, {"s": -8, "R": 0.72}, {"s": -4, "R": 0.78}, {"s": 0, "R": 0.81},
    {"s": 3, "R": 0.79}, {"s": 7, "R": 0.74}, {"s": 11, "R": 0.68}, {"s": 16, "R": 0.61}, {"s": 22, "R": 0.54}, {"s": 28, "R": 0.49}, {"s": 34, "R": 0.45}, {"s": 41, "R": 0.42}, {"s": 49, "R": 0.4}, {"s": 60, "R": 0.375}, {"s": 73, "R": 0.35}, {"s": 87, "R": 0.33}, {"s": 105, "R": 0.3}, {"s": 125, "R": 0.27}, {"s": 140, "R": 0.24}, {"s": 155, "R": 0.2}, {"s": 167, "R": 0.17}, {"s": 178, "R": 0.146}, {"s": 190, "R": 0.12}, {"s": 198, "R": 0.1}, {"s": 205, "R": 0.082}, {"s": 211, "R": 0.068}, {"s": 216, "R": 0.055}, {"s": 220, "R": 0.045}, {"s": 224, "R": 0.035}, {"s": 228, "R": 0.02}
  ]}, "mark": {"type": "area", "color": "#99ff99", "opacity": 1}, "encoding": {"y2": {"datum": 0}}},
  {"data": {"values": [
    {"s": 0, "R": 0.81, "Rlo": 0.81}, {"s": 3, "R": 0.81, "Rlo": 0.79}, {"s": 7, "R": 0.79, "Rlo": 0.74}, {"s": 11, "R": 0.765, "Rlo": 0.68}, {"s": 16, "R": 0.74, "Rlo": 0.61}, {"s": 22, "R": 0.715, "Rlo": 0.54}, {"s": 28, "R": 0.695, "Rlo": 0.49}, {"s": 34, "R": 0.675, "Rlo": 0.45}, {"s": 41, "R": 0.65, "Rlo": 0.42}, {"s": 49, "R": 0.63, "Rlo": 0.4}, {"s": 60, "R": 0.605, "Rlo": 0.375}, {"s": 73, "R": 0.58, "Rlo": 0.35}, {"s": 87, "R": 0.56, "Rlo": 0.33}, {"s": 105, "R": 0.53, "Rlo": 0.3}, {"s": 125, "R": 0.505, "Rlo": 0.27}, {"s": 140, "R": 0.49, "Rlo": 0.24}, {"s": 155, "R": 0.47, "Rlo": 0.2}, {"s": 167, "R": 0.44, "Rlo": 0.17}, {"s": 178, "R": 0.41, "Rlo": 0.146}, {"s": 190, "R": 0.37, "Rlo": 0.12}, {"s": 198, "R": 0.33, "Rlo": 0.1}, {"s": 205, "R": 0.27, "Rlo": 0.082}, {"s": 211, "R": 0.21, "Rlo": 0.068}, {"s": 216, "R": 0.146, "Rlo": 0.055}, {"s": 220, "R": 0.075, "Rlo": 0.045}, {"s": 224, "R": 0.035, "Rlo": 0.035}, {"s": 228, "R": 0.02, "Rlo": 0.02}
  ]}, "mark": {"type": "area", "color": "#6262ee", "opacity": 1}, "encoding": {"y2": {"field": "Rlo"}}},
  {"data": {"values": [
    {"s": -237, "R": 0.01}, {"s": -232, "R": 0.02}, {"s": -225, "R": 0.035}, {"s": -215, "R": 0.06}, {"s": -202, "R": 0.085}, {"s": -190, "R": 0.105}, {"s": -180, "R": 0.125}, {"s": -165, "R": 0.16}, {"s": -150, "R": 0.195}, {"s": -138, "R": 0.215}, {"s": -126, "R": 0.23}, {"s": -110, "R": 0.25}, {"s": -96, "R": 0.27}, {"s": -80, "R": 0.3}, {"s": -65, "R": 0.33}, {"s": -52, "R": 0.36}, {"s": -42, "R": 0.39}, {"s": -34, "R": 0.43}, {"s": -27, "R": 0.475}, {"s": -21, "R": 0.53}, {"s": -16, "R": 0.6}, {"s": -12, "R": 0.66}, {"s": -8, "R": 0.72}, {"s": -4, "R": 0.78}, {"s": 0, "R": 0.81},
    {"s": 3, "R": 0.81}, {"s": 7, "R": 0.79}, {"s": 11, "R": 0.765}, {"s": 16, "R": 0.74}, {"s": 22, "R": 0.715}, {"s": 28, "R": 0.695}, {"s": 34, "R": 0.675}, {"s": 41, "R": 0.65}, {"s": 49, "R": 0.63}, {"s": 60, "R": 0.605}, {"s": 73, "R": 0.58}, {"s": 87, "R": 0.56}, {"s": 105, "R": 0.53}, {"s": 125, "R": 0.505}, {"s": 140, "R": 0.49}, {"s": 155, "R": 0.47}, {"s": 167, "R": 0.44}, {"s": 178, "R": 0.41}, {"s": 190, "R": 0.37}, {"s": 198, "R": 0.33}, {"s": 205, "R": 0.27}, {"s": 211, "R": 0.21}, {"s": 216, "R": 0.146}, {"s": 220, "R": 0.075}, {"s": 224, "R": 0.035}, {"s": 228, "R": 0.02}
  ]}, "mark": {"type": "line", "color": "black", "strokeWidth": 1.1}},
  {"data": {"values": [
    {"s": 0, "R": 0.81}, {"s": 3, "R": 0.79}, {"s": 7, "R": 0.74}, {"s": 11, "R": 0.68}, {"s": 16, "R": 0.61}, {"s": 22, "R": 0.54}, {"s": 28, "R": 0.49}, {"s": 34, "R": 0.45}, {"s": 41, "R": 0.42}, {"s": 49, "R": 0.4}, {"s": 60, "R": 0.375}, {"s": 73, "R": 0.35}, {"s": 87, "R": 0.33}, {"s": 105, "R": 0.3}, {"s": 125, "R": 0.27}, {"s": 140, "R": 0.24}, {"s": 155, "R": 0.2}, {"s": 167, "R": 0.17}, {"s": 178, "R": 0.146}, {"s": 190, "R": 0.12}, {"s": 198, "R": 0.1}, {"s": 205, "R": 0.082}, {"s": 211, "R": 0.068}, {"s": 216, "R": 0.055}, {"s": 220, "R": 0.045}, {"s": 224, "R": 0.035}, {"s": 228, "R": 0.02}
  ]}, "mark": {"type": "line", "color": "#333", "strokeWidth": 1.1, "strokeDash": [3, 2]}},
  {"data": {"values": [{"s": 0, "R": 0.81}]}, "mark": {"type": "rule", "color": "black", "strokeDash": [4, 3], "strokeWidth": 1.1}, "encoding": {"y2": {"datum": 0}}},
  {"data": {"values": [{"s": -204, "R": 0.76, "label": "g)"}]}, "mark": {"type": "text", "align": "center", "baseline": "middle", "fontSize": 14}, "encoding": {"text": {"field": "label"}}},
  {"data": {"values": [{"s": -237, "send": 228, "R": -0.02, "Rend": 0.837}]}, "mark": {"type": "rect", "filled": false, "stroke": "#222", "strokeWidth": 1}, "encoding": {"x2": {"field": "send"}, "y2": {"field": "Rend"}}}
 ]
}
]
}
